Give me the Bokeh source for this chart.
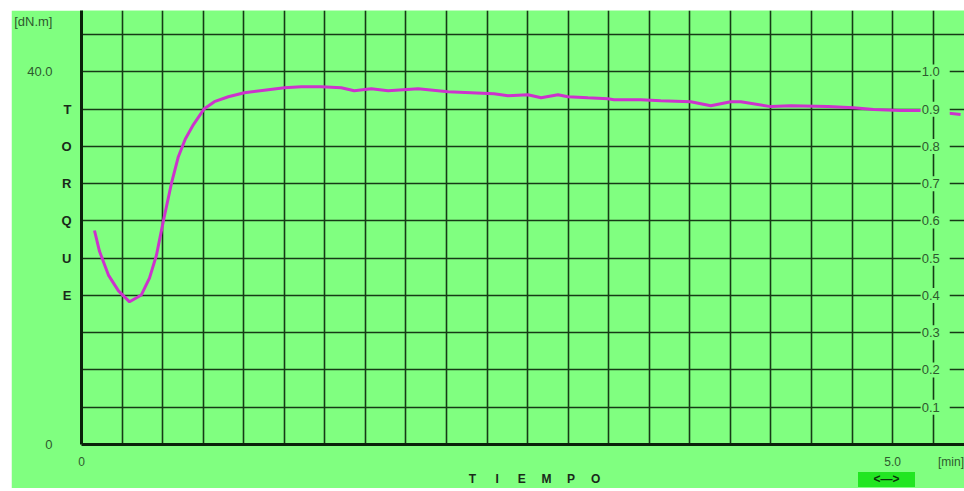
from bokeh.plotting import figure
from bokeh.models import (LinearAxis, Range1d, FixedTicker, SingleIntervalTicker,
                          ColumnDataSource, Div)
from bokeh.layouts import column
from bokeh.core.properties import value
from bokeh.embed import file_html
from bokeh.resources import INLINE

# ---- data ----
time_min = [0.080, 0.111, 0.166, 0.228, 0.296, 0.369, 0.419, 0.462, 0.505, 0.554,
            0.597, 0.640, 0.690, 0.757, 0.819, 0.905, 1.004, 1.151, 1.250, 1.355,
            1.478, 1.601, 1.681, 1.786, 1.890, 2.075, 2.260, 2.401, 2.543, 2.629,
            2.752, 2.833, 2.937, 2.999, 3.122, 3.245, 3.282, 3.448, 3.571, 3.756,
            3.879, 4.002, 4.064, 4.249, 4.372, 4.600, 4.760, 4.883, 5.049, 5.203,
            5.419]
torque_dnm = [22.98, 20.74, 18.19, 16.49, 15.32, 16.06, 17.87, 20.32, 24.04, 28.00,
              30.90, 32.80, 34.35, 36.06, 36.81, 37.34, 37.77, 38.09, 38.30, 38.40,
              38.40, 38.30, 37.98, 38.19, 37.98, 38.19, 37.87, 37.77, 37.66, 37.45,
              37.55, 37.23, 37.55, 37.34, 37.23, 37.13, 37.02, 37.02, 36.91, 36.81,
              36.38, 36.81, 36.81, 36.28, 36.38, 36.28, 36.17, 35.96, 35.85, 35.85,
              35.43]

left_ticks = [0, 40, 45.4]
left_labels = ["0", "40.0", "[dN.m]"]
torque_letter_ticks = [36, 32, 28, 24, 20, 16]
torque_letters = ["T", "O", "R", "Q", "U", "E"]
x_ticks = [0, 5.0, 5.36]
x_labels = ["0", "5.0", "[min]"]
tiempo_letters = ["T", "I", "E", "M", "P", "O"]
ratio_ticks = [0.1, 0.2, 0.3, 0.4, 0.5, 0.6, 0.7, 0.8, 0.9, 1.0]
ratio_labels = ["0.1", "0.2", "0.3", "0.4", "0.5", "0.6", "0.7", "0.8", "0.9", "1.0"]
button_text = "<\u2014>"

# ---- style ----
GREEN = "#80ff80"
GRID = "#163a16"
AXIS = "#0a220a"
LABEL = "#2e5a2e"
CURVE = "#cc33cc"
FONT = "Liberation Sans"
X_MAX = 5.443
Y_MAX = 46.6
TORQUE_FOR_RATIO_1 = 40.0
RIGHT_AXIS_AT = 5.25
tiempo_start, tiempo_step = 2.41, 0.152
tiempo_ticks = [tiempo_start + tiempo_step * i for i in range(len(tiempo_letters))]

p = figure(width=953, height=478, x_range=Range1d(0, X_MAX), y_range=Range1d(0, Y_MAX),
           output_backend="svg", toolbar_location=None,
           min_border_left=69, min_border_right=0, min_border_top=0, min_border_bottom=40,
           background_fill_color=GREEN, border_fill_color=GREEN, outline_line_color=None)
p.margin = (10, 0, 0, 11)
p.extra_y_ranges = {"ratio": Range1d(0, Y_MAX / TORQUE_FOR_RATIO_1)}

# grids
p.xgrid[0].ticker = SingleIntervalTicker(interval=0.25)
p.ygrid[0].ticker = SingleIntervalTicker(interval=4)
for g in (p.xgrid[0], p.ygrid[0]):
    g.grid_line_color = GRID
    g.grid_line_width = 1.6

def style_axis(ax, size, bold, color, standoff, line=True):
    ax.major_tick_line_color = None
    ax.minor_tick_line_color = None
    ax.major_tick_out = 0
    ax.major_tick_in = 0
    ax.minor_tick_out = 0
    ax.major_label_text_font = FONT
    ax.major_label_text_font_size = size
    ax.major_label_text_font_style = "bold" if bold else "normal"
    ax.major_label_text_color = color
    ax.major_label_standoff = standoff
    if line:
        ax.axis_line_color = AXIS
        ax.axis_line_width = 3
    else:
        ax.axis_line_color = None

# left: TORQUE letters (closest), then numbers
ya = p.yaxis[0]
ya.ticker = FixedTicker(ticks=torque_letter_ticks)
ya.major_label_overrides = dict(zip(torque_letter_ticks, torque_letters))
style_axis(ya, "13px", True, "#1a2a1a", 10)

ynum = LinearAxis(ticker=FixedTicker(ticks=left_ticks),
                  major_label_overrides=dict(zip(left_ticks, left_labels)))
style_axis(ynum, "13px", False, LABEL, 6, line=False)
p.add_layout(ynum, "left")

# bottom: numbers, then TIEMPO letters
xa = p.xaxis[0]
xa.ticker = FixedTicker(ticks=x_ticks)
xa.major_label_overrides = dict(zip(x_ticks, x_labels))
style_axis(xa, "12px", False, LABEL, 10)

xt = LinearAxis(ticker=FixedTicker(ticks=tiempo_ticks),
                major_label_overrides=dict(zip(tiempo_ticks, tiempo_letters)))
style_axis(xt, "12px", True, "#1a2a1a", 0, line=False)
p.add_layout(xt, "below")

# curve
p.line(time_min, torque_dnm, line_color=CURVE, line_width=3)

# right ratio scale drawn inside plot
src = ColumnDataSource(dict(x=[RIGHT_AXIS_AT] * len(ratio_ticks), y=ratio_ticks, text=ratio_labels))
p.text(x="x", y="y", text="text", source=src, y_range_name="ratio",
       text_align="center", text_baseline="middle", text_font=value(FONT),
       text_font_size="13px", text_color=LABEL, x_offset=2,
       background_fill_color=GREEN, padding=dict(left=1, right=10, top=3, bottom=3))

# scroll button under the plot, overlapping the bottom strip
btn = Div(text=button_text, width=57, height=15, margin=(-16, 0, 0, 858),
          styles={"background-color": "#22e622", "color": "#0a300a",
                  "font-family": FONT, "font-size": "12px", "font-weight": "bold",
                  "text-align": "center", "line-height": "15px"})

layout = column(p, btn)
open("out.html", "w").write(file_html(layout, INLINE))
